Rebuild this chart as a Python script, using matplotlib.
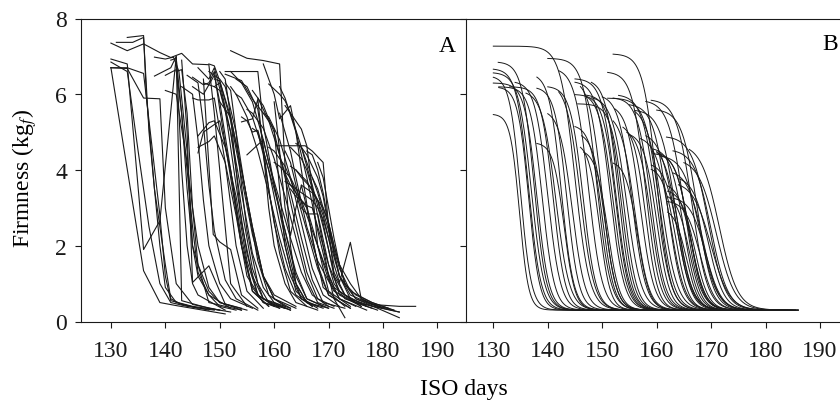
import numpy as np
import matplotlib.pyplot as plt

plt.rcParams['font.family'] = ['Liberation Serif', 'DejaVu Serif']
plt.rcParams['mathtext.fontset'] = 'stix'

# Panel A: measured firmness, one polyline per fruit (ISO day, kgf)
a_days = [
    [130, 136, 139, 142, 151],
    [130, 133, 136, 139, 142, 143, 148, 152],
    [130, 133, 136, 139, 140, 141, 145, 150],
    [130, 133, 136, 139, 141, 143, 145, 148, 149, 152, 155],
    [131, 134, 136, 137, 139, 140, 142, 146],
    [133, 136, 136.5, 138, 140, 141, 143, 148],
    [130, 133, 136, 139, 140, 142, 145, 150],
    [130, 133, 135, 137, 139, 141, 144, 149],
    [138, 141, 142, 143, 144, 145, 146, 151],
    [138, 140, 141.5, 142.5, 144, 145, 148, 154],
    [140, 142, 143, 144, 145, 146, 148, 152],
    [141, 142, 144, 145, 146, 148, 150, 153],
    [142, 143, 144, 145, 146, 148, 150, 154],
    [143, 144, 145, 148, 151, 154],
    [145, 147, 148, 149, 150, 152, 154, 156, 158, 162],
    [145, 147, 149, 150, 152, 154, 156, 159],
    [146, 148, 149, 151, 153, 155, 157, 160],
    [145, 146, 148, 149, 151, 153, 155, 158],
    [146, 147, 148, 150, 152, 154, 156, 159],
    [146, 148, 149, 151, 153, 155, 157, 161],
    [146, 148, 149, 151, 153, 155, 158, 161],
    [147, 149, 150, 152, 154, 156, 158, 163],
    [148, 150, 151, 153, 155, 157, 159, 162],
    [148, 149, 150, 152, 154, 156, 158, 160, 164],
    [149, 150, 152, 154, 156, 158, 160, 164],
    [149, 150, 152, 154, 156, 158, 160, 163],
    [147, 148.8, 150, 152, 154, 157],
    [152, 155, 158, 161, 162, 163, 164, 166, 170],
    [151, 154, 157, 158, 160, 162, 164, 166, 169],
    [151, 154, 156, 158, 160, 161, 162, 164, 167],
    [152, 154, 156, 158, 160, 162, 164, 166, 169],
    [152, 153, 155, 157, 159, 161, 163, 165, 168],
    [153, 154, 156, 158, 160, 162, 164, 166, 170],
    [154, 155, 156, 157, 159, 161, 163, 165, 168],
    [154, 156, 157, 158, 159, 160, 162, 164, 168],
    [155, 156, 158, 160, 162, 164, 166, 168, 171],
    [156, 157, 159, 161, 163, 165, 167, 169, 173],
    [155, 158, 159, 161, 163, 165, 167, 170],
    [159, 161, 162, 163, 165, 166, 167, 168, 170, 174],
    [158, 160, 161, 163, 164, 165, 167, 169, 173],
    [160.5, 163, 165.7, 167, 169, 170, 171, 172, 176],
    [162, 163, 164, 165, 166, 168, 170, 172, 176],
    [163, 164, 165, 166, 167, 169, 171, 173, 178],
    [162, 163, 164, 166, 167, 168, 170, 172, 177],
    [164, 165, 167, 168, 169, 170, 171, 172, 174, 176, 180],
    [165, 166, 168, 169, 170, 171, 172, 174, 178, 183],
    [167, 168, 169, 170, 171, 172, 173, 175, 179, 183],
    [168, 169, 170, 171, 172, 174, 176, 178, 183, 186],
    [161, 162, 163, 164, 166, 168, 171, 175, 180, 183],
    [160, 161, 162, 163, 164, 165, 166, 168, 170, 174],
    [163, 165, 166, 167, 168, 169, 170, 171, 173],
    [143, 145, 146, 147, 148, 150, 152, 156],
    [144, 146, 147, 148, 149, 151, 153, 157],
    [150, 151, 152, 153, 154, 156, 158, 162],
    [151, 152, 153, 154, 155, 157, 159, 163],
    [150, 152, 154, 156, 158, 160, 163],
    [157, 158, 160, 162, 164, 166, 168, 171],
    [158, 159, 161, 163, 165, 167, 169, 172],
    [161, 162, 164, 166, 168, 170, 172, 175],
    [162, 163, 165, 167, 169, 171, 173, 177],
    [164, 165, 166, 168, 170, 172, 174, 178, 182],
    [166, 167, 168, 169, 170, 171, 172, 174, 178, 182],
    [163, 164, 166, 168, 169, 170, 171, 173, 177],
    [159, 160, 162, 164, 166, 168, 170, 174],
    [160, 161, 163, 165, 167, 169, 171, 175, 179],
    [156, 157, 158, 159, 160, 162, 164, 167],
    [153, 155, 157, 158, 159, 161, 163, 166],
    [140, 142, 144, 145, 146, 148, 150, 155],
    [162, 165, 167, 168, 169, 170, 172, 175, 180],
    [165, 167, 169, 170, 171, 172, 173, 175, 178, 181],
]
a_firm = [
    [6.7, 1.34, 0.5, 0.42, 0.2],
    [6.93, 6.8, 1.9, 2.66, 7.0, 0.55, 0.35, 0.25],
    [6.7, 6.7, 6.55, 2.8, 1.2, 0.55, 0.4, 0.3],
    [7.35, 7.15, 7.33, 7.1, 6.97, 7.08, 6.8, 6.78, 5.5, 1.0, 0.4],
    [7.37, 7.37, 7.5, 5.0, 2.0, 0.9, 0.5, 0.35],
    [7.5, 7.55, 6.0, 3.5, 1.5, 0.6, 0.45, 0.3],
    [6.7, 6.68, 5.9, 5.88, 3.0, 1.0, 0.45, 0.3],
    [6.85, 6.6, 4.5, 2.5, 1.0, 0.5, 0.4, 0.3],
    [6.48, 6.7, 7.0, 4.0, 2.0, 1.0, 0.7, 0.3],
    [6.98, 6.93, 6.98, 6.6, 4.5, 2.0, 0.5, 0.3],
    [6.5, 6.65, 5.5, 3.5, 2.0, 1.2, 0.7, 0.35],
    [6.9, 6.95, 4.0, 2.5, 1.3, 0.7, 0.4, 0.3],
    [6.6, 6.65, 5.5, 3.0, 1.5, 0.8, 0.5, 0.35],
    [6.9, 5.0, 1.03, 1.47, 0.46, 0.3],
    [6.45, 6.25, 6.3, 6.6, 5.6, 3.8, 2.0, 0.9, 0.5, 0.35],
    [6.2, 6.0, 6.5, 5.8, 4.0, 2.2, 0.8, 0.4],
    [6.7, 6.4, 6.7, 5.6, 3.6, 1.8, 0.7, 0.4],
    [5.9, 5.85, 5.85, 5.9, 4.2, 2.0, 0.8, 0.35],
    [4.45, 5.0, 5.1, 5.3, 4.0, 2.0, 0.8, 0.4],
    [4.9, 5.25, 5.3, 4.6, 3.3, 1.6, 0.7, 0.35],
    [4.6, 4.75, 4.9, 4.2, 2.8, 1.2, 0.5, 0.35],
    [6.3, 6.2, 6.3, 5.0, 3.0, 1.4, 0.6, 0.35],
    [6.6, 6.4, 6.2, 5.0, 3.2, 1.6, 0.7, 0.4],
    [6.8, 6.75, 6.35, 5.4, 4.0, 2.5, 1.2, 0.6, 0.35],
    [6.4, 6.35, 5.3, 3.8, 2.3, 1.2, 0.7, 0.4],
    [6.2, 6.1, 5.0, 3.4, 1.8, 0.9, 0.5, 0.3],
    [6.4, 2.3, 2.1, 1.9, 0.7, 0.35],
    [7.15, 6.95, 6.89, 6.8, 4.1, 2.0, 1.0, 0.5, 0.35],
    [6.6, 6.6, 6.6, 5.2, 3.6, 2.2, 1.0, 0.5, 0.35],
    [6.53, 6.36, 5.87, 5.5, 5.08, 3.5, 2.0, 0.8, 0.4],
    [6.6, 6.3, 5.8, 4.8, 3.6, 2.4, 1.2, 0.6, 0.4],
    [6.2, 6.0, 5.4, 4.5, 3.4, 2.2, 1.2, 0.6, 0.4],
    [6.0, 5.9, 5.4, 4.5, 3.5, 2.4, 1.3, 0.6, 0.35],
    [5.4, 5.3, 5.0, 5.05, 4.0, 2.6, 1.4, 0.6, 0.35],
    [5.27, 5.35, 5.87, 4.5, 3.0, 2.0, 1.0, 0.5, 0.3],
    [5.6, 5.5, 5.1, 4.3, 3.3, 2.2, 1.1, 0.5, 0.35],
    [6.1, 5.9, 5.3, 4.4, 3.4, 2.2, 1.1, 0.5, 0.35],
    [4.4, 4.8, 4.2, 3.2, 2.2, 1.3, 0.7, 0.4],
    [6.27, 6.0, 5.83, 5.5, 5.08, 4.64, 3.5, 2.0, 0.8, 0.4],
    [6.8, 6.0, 5.35, 5.7, 5.0, 4.0, 2.2, 0.9, 0.4],
    [4.64, 4.64, 4.64, 4.5, 4.2, 2.5, 1.2, 0.7, 0.4],
    [4.5, 4.2, 3.6, 3.0, 2.84, 2.84, 1.5, 0.8, 0.4],
    [3.5, 3.3, 3.2, 3.06, 3.0, 2.0, 1.0, 0.6, 0.35],
    [3.9, 3.6, 3.4, 3.0, 2.5, 2.0, 1.1, 0.6, 0.3],
    [4.0, 3.8, 3.5, 3.2, 2.8, 2.2, 1.5, 1.03, 2.09, 0.6, 0.35],
    [4.6, 4.4, 3.8, 3.3, 2.5, 1.8, 1.2, 0.6, 0.4, 0.25],
    [3.8, 3.5, 3.0, 2.6, 2.0, 1.5, 1.0, 0.6, 0.35, 0.1],
    [4.2, 3.8, 3.0, 2.2, 1.5, 1.0, 0.6, 0.45, 0.4, 0.4],
    [5.5, 5.0, 4.5, 3.8, 2.5, 1.6, 0.8, 0.5, 0.35, 0.25],
    [5.8, 4.5, 3.0, 2.27, 3.0, 3.6, 3.0, 1.5, 0.7, 0.35],
    [4.6, 4.3, 4.0, 3.5, 2.8, 2.0, 1.2, 0.6, 0.1],
    [6.2, 6.0, 4.8, 3.2, 2.0, 1.0, 0.6, 0.35],
    [6.5, 6.3, 5.2, 3.6, 2.4, 1.1, 0.6, 0.3],
    [6.6, 6.4, 5.4, 4.0, 2.6, 1.2, 0.6, 0.35],
    [6.3, 6.1, 5.0, 3.6, 2.4, 1.0, 0.5, 0.3],
    [5.8, 5.4, 4.0, 2.5, 1.2, 0.6, 0.35],
    [5.9, 5.7, 5.0, 3.8, 2.5, 1.3, 0.6, 0.4],
    [5.5, 5.4, 4.8, 3.8, 2.6, 1.4, 0.7, 0.4],
    [6.2, 5.9, 5.0, 3.8, 2.4, 1.2, 0.6, 0.4],
    [5.7, 5.5, 4.6, 3.6, 2.5, 1.3, 0.7, 0.4],
    [4.7, 4.6, 4.2, 3.4, 2.4, 1.4, 0.8, 0.5, 0.3],
    [4.5, 4.4, 4.0, 3.4, 2.6, 1.8, 1.2, 0.7, 0.45, 0.3],
    [4.1, 4.0, 3.7, 3.2, 2.6, 1.9, 1.2, 0.7, 0.4],
    [4.6, 4.5, 4.1, 3.4, 2.4, 1.4, 0.7, 0.35],
    [4.2, 4.1, 3.8, 3.2, 2.4, 1.6, 0.9, 0.5, 0.3],
    [5.1, 5.0, 4.4, 3.5, 2.6, 1.4, 0.7, 0.4],
    [6.4, 6.2, 5.6, 4.6, 3.5, 1.8, 0.8, 0.4],
    [6.1, 6.0, 4.2, 3.0, 2.0, 0.9, 0.5, 0.3],
    [3.7, 3.4, 3.2, 3.0, 2.7, 2.2, 1.2, 0.6, 0.35],
    [3.6, 3.4, 3.0, 2.6, 2.0, 1.5, 1.0, 0.7, 0.5, 0.35],
]

# Panel B: fitted logistic curves, parameters read per fruit
b_start = [130, 130.9, 130, 130, 130, 131, 130, 140, 138, 138, 145, 145, 145,
           146.2, 146, 146.6, 152, 151, 159, 160, 152, 152.3, 153.8, 154.5, 155,
           161.8, 160, 159.3, 159.3, 159, 159, 164.3, 162, 162, 162, 162, 162,
           152, 131, 133, 138, 140, 130, 145, 147, 145.5, 151, 155, 156, 148,
           142, 163, 165,
           136, 134, 140, 142, 147, 148, 150, 152, 156, 157, 158, 160, 161,
           163, 164, 163, 166, 158, 153, 146]
b_top = [7.27, 6.86, 6.68, 6.58, 6.49, 6.2, 5.48, 6.95, 6.56, 4.73, 6.42, 6.35,
         5.2, 5.0, 4.73, 4.55, 7.07, 6.6, 5.87, 5.61, 5.92, 5.74, 5.24, 5.1, 5.0,
         4.9, 4.5, 4.6, 4.45, 4.2, 4.1, 3.85, 3.67, 3.5, 3.4, 3.2, 3.0, 4.25,
         6.2, 6.2, 6.2, 6.22, 6.3, 6.0, 6.0, 5.75, 5.9, 5.75, 5.6, 6.4, 6.7,
         4.55, 4.3,
         6.1, 6.35, 5.6, 6.3, 6.05, 5.95, 6.0, 5.5, 5.7, 4.9, 5.0, 4.7, 4.4,
         4.0, 3.7, 3.3, 4.7, 5.85, 6.0, 6.4]
b_mid = [145.0, 137.5, 136.5, 137.0, 135.0, 136.5, 134.8, 149.0, 142.5, 143.0,
         152.5, 151.5, 150.0, 150.5, 149.5, 151.0, 160.0, 158.0, 166.5, 167.5,
         159.0, 157.0, 158.0, 159.0, 160.0, 169.5, 166.0, 165.0, 166.0, 164.0,
         163.5, 169.5, 166.5, 167.0, 166.0, 168.0, 165.5, 156.5, 139.0, 141.0,
         143.5, 146.5, 138.0, 152.5, 153.5, 154.0, 160.5, 162.0, 163.5, 153.0,
         147.5, 170.0, 171.0,
         141.5, 140.0, 144.5, 146.0, 152.0, 154.5, 155.5, 156.0, 161.0, 162.5,
         163.5, 164.0, 168.0, 168.5, 170.0, 169.0, 171.5, 165.0, 160.0, 150.0]
b_rate = [0.75, 0.9, 0.9, 0.85, 1.0, 1.0, 1.2, 0.8, 0.9, 1.0, 0.8, 0.8, 0.9, 0.9,
          1.0, 0.9, 0.8, 0.8, 0.7, 0.7, 0.8, 0.8, 0.9, 0.85, 0.85, 0.65, 0.75, 0.8,
          0.8, 0.8, 0.85, 0.7, 0.8, 0.8, 0.85, 0.75, 0.9, 0.9, 0.9, 0.9, 0.9, 0.85,
          0.9, 0.85, 0.85, 0.85, 0.75, 0.75, 0.7, 0.85, 0.8, 0.65, 0.6,
          0.8, 0.85, 0.85, 0.8, 0.8, 0.75, 0.8, 0.8, 0.7, 0.75, 0.7, 0.75, 0.65,
          0.7, 0.6, 0.7, 0.6, 0.7, 0.75, 0.85]
b_floor = 0.3
b_end = 186

fig = plt.figure(figsize=(8.4, 4.06), dpi=100)
ax1 = fig.add_axes([81 / 840, 83.5 / 406, 384.7 / 840, 303 / 406])
ax2 = fig.add_axes([465.7 / 840, 83.5 / 406, 374.3 / 840, 303 / 406])

for d, f in zip(a_days, a_firm):
    ax1.plot(d, f, color='#1a1a1a', lw=0.8)

for s, top, m, k in zip(b_start, b_top, b_mid, b_rate):
    t = np.linspace(s, min(b_end, m + 16), 200)
    ax2.plot(t, b_floor + (top - b_floor) / (1 + np.exp(k * (t - m))),
             color='#1a1a1a', lw=0.7)

ax1.set_xlim(124.5, 195.2)
ax2.set_xlim(124.93, 193.67)
xt = [130, 140, 150, 160, 170, 180, 190]
for ax in (ax1, ax2):
    ax.set_ylim(0, 8)
    ax.set_xticks(xt)
    ax.set_yticks([0, 2, 4, 6, 8])
    ax.tick_params(direction='out', length=4, width=0.8, labelsize=17,
                   colors='#1a1a1a')
    ax.tick_params(axis='x', pad=9)
    ax.tick_params(axis='y', pad=6)
    for sp in ax.spines.values():
        sp.set_linewidth(0.8)
        sp.set_color('#1a1a1a')
ax2.spines['right'].set_visible(False)
ax1.spines['right'].set_visible(False)
ax2.set_yticklabels([])

fig.text(25 / 840, 1 - 179 / 406, 'Firmness (kg$_f$)', rotation=90,
         ha='center', va='center', fontsize=17)
fig.text(464 / 840, 1 - 390 / 406, 'ISO days', ha='center', va='center',
         fontsize=17)
fig.text(447 / 840, 1 - 47 / 406, 'A', ha='center', va='center', fontsize=17)
fig.text(830 / 840, 1 - 45 / 406, 'B', ha='center', va='center', fontsize=17)

fig.savefig('out.png', dpi=100)
